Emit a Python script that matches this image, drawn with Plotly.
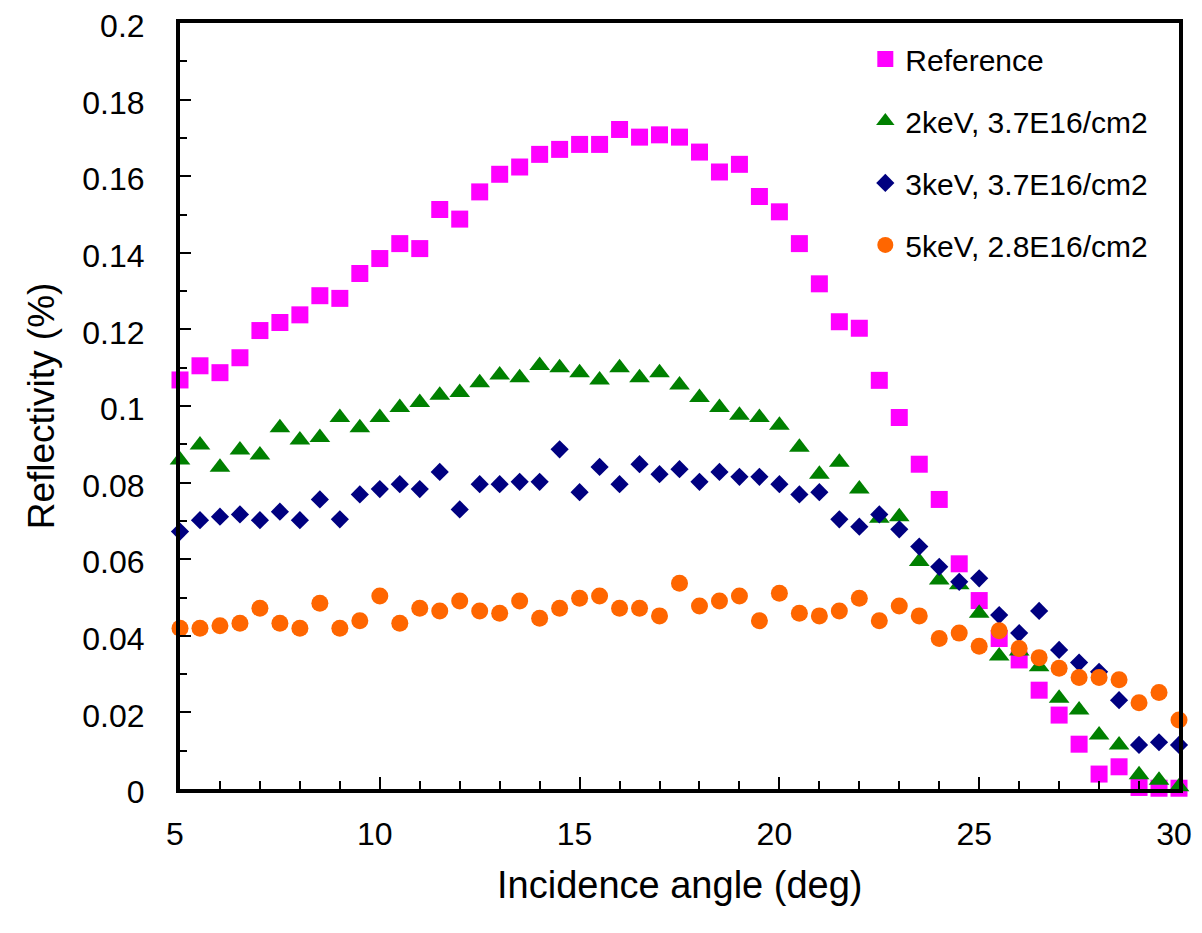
import plotly.graph_objects as go

angle = [5 + 0.5 * i for i in range(51)]

reference = [0.1068, 0.1105, 0.1087, 0.1126, 0.1197, 0.1218, 0.1238, 0.1288, 0.1281, 0.1346,
             0.1385, 0.1424, 0.1411, 0.1513, 0.1488, 0.1559, 0.1605, 0.1624, 0.1657, 0.1670,
             0.1683, 0.1683, 0.1722, 0.1702, 0.1708, 0.1702, 0.1663, 0.1611, 0.1631, 0.1547,
             0.1507, 0.1424, 0.1319, 0.1220, 0.1203, 0.1067, 0.0970, 0.0848, 0.0756, 0.0588,
             0.0492, 0.0393, 0.0337, 0.0258, 0.0193, 0.0117, 0.0039, 0.0058, 0.0004, 0.0002,
             0.0002]

kev2 = [0.0859, 0.0898, 0.0840, 0.0885, 0.0872, 0.0943, 0.0911, 0.0918, 0.0970, 0.0943,
        0.0970, 0.0996, 0.1009, 0.1028, 0.1035, 0.1061, 0.1081, 0.1074, 0.1106, 0.1100,
        0.1087, 0.1068, 0.1100, 0.1074, 0.1087, 0.1055, 0.1022, 0.0996, 0.0976, 0.0970,
        0.0950, 0.0892, 0.0822, 0.0853, 0.0783, 0.0707, 0.0711, 0.0594, 0.0546, 0.0533,
        0.0459, 0.0347, 0.0360, 0.0319, 0.0237, 0.0206, 0.0141, 0.0115, 0.0037, 0.0023,
        0.0006]

kev3 = [0.0672, 0.0702, 0.0711, 0.0717, 0.0702, 0.0724, 0.0702, 0.0756, 0.0704, 0.0769,
        0.0783, 0.0796, 0.0783, 0.0828, 0.0730, 0.0796, 0.0796, 0.0802, 0.0802, 0.0887,
        0.0775, 0.0841, 0.0796, 0.0848, 0.0822, 0.0835, 0.0802, 0.0828, 0.0815, 0.0815,
        0.0796, 0.0769, 0.0775, 0.0704, 0.0685, 0.0717, 0.0678, 0.0633, 0.0580, 0.0541,
        0.0550, 0.0454, 0.0407, 0.0465, 0.0363, 0.0330, 0.0306, 0.0232, 0.0115, 0.0122,
        0.0115]

kev5 = [0.0420, 0.0420, 0.0426, 0.0433, 0.0472, 0.0433, 0.0420, 0.0485, 0.0420, 0.0439,
        0.0504, 0.0433, 0.0472, 0.0465, 0.0491, 0.0465, 0.0459, 0.0491, 0.0446, 0.0472,
        0.0498, 0.0504, 0.0472, 0.0472, 0.0452, 0.0537, 0.0478, 0.0491, 0.0504, 0.0439,
        0.0511, 0.0459, 0.0452, 0.0465, 0.0498, 0.0439, 0.0478, 0.0452, 0.0393, 0.0407,
        0.0373, 0.0413, 0.0367, 0.0343, 0.0315, 0.0291, 0.0291, 0.0285, 0.0225, 0.0252,
        0.0180]

y_ticks = [0, 0.02, 0.04, 0.06, 0.08, 0.1, 0.12, 0.14, 0.16, 0.18, 0.2]
y_ticklabels = ["0", "0.02", "0.04", "0.06", "0.08", "0.1", "0.12", "0.14", "0.16", "0.18", "0.2"]
x_ticks = [5, 10, 15, 20, 25, 30]

series = [
    ("Reference", reference, "square", "#FF00FF", 17),
    ("2keV, 3.7E16/cm2", kev2, "triangle-up", "#008000", 18),
    ("3keV, 3.7E16/cm2", kev3, "diamond", "#000080", 14),
    ("5keV, 2.8E16/cm2", kev5, "circle", "#FF6600", 17),
]

FONT = "Liberation Sans, Arial, sans-serif"

fig = go.Figure()
for i, (name, vals, sym, col, sz) in enumerate(series):
    fig.add_trace(go.Scatter(
        x=angle, y=vals, mode="markers", name=name, legendgroup=f"g{i}",
        marker=dict(symbol=sym, color=col, size=sz, line=dict(width=0)),
        cliponaxis=False,
    ))

fig.update_layout(
    width=1194, height=917,
    margin=dict(l=172, r=23, t=15, b=136, autoexpand=False),
    paper_bgcolor="white", plot_bgcolor="white",
    font=dict(family=FONT, color="black", size=30),
    showlegend=True,
    legend=dict(
        x=0.686, y=0.987, xanchor="left", yanchor="top",
        bgcolor="rgba(0,0,0,0)", borderwidth=0,
        font=dict(family=FONT, size=30, color="black"),
        tracegroupgap=20, itemsizing="trace",
    ),
    xaxis=dict(
        range=[5, 30], tickmode="array", tickvals=x_ticks, automargin=False,
        ticks="inside", ticklen=12, tickwidth=1.5, tickcolor="black",
        minor=dict(dtick=1, tick0=5, ticks="inside", ticklen=8, tickwidth=1.5, tickcolor="black", showgrid=False),
        showline=True, linewidth=4, linecolor="black", mirror=True,
        showgrid=False, zeroline=False, layer="above traces",
        tickfont=dict(size=32), ticklabelstandoff=14, ticklabeloverflow="allow",
        ticklabelshift=-5,
    ),
    yaxis=dict(
        range=[0, 0.2], tickmode="array", tickvals=y_ticks, ticktext=y_ticklabels, automargin=False,
        ticks="inside", ticklen=11, tickwidth=1.5, tickcolor="black",
        minor=dict(dtick=0.01, tick0=0, ticks="inside", ticklen=7, tickwidth=1.5, tickcolor="black", showgrid=False),
        showline=True, linewidth=4, linecolor="black", mirror=True,
        showgrid=False, zeroline=False, layer="above traces",
        tickfont=dict(size=32), ticklabelstandoff=25, ticklabeloverflow="allow",
        ticklabelshift=3,
        title=dict(text="Reflectivity (%)", font=dict(size=37), standoff=17),
    ),
    annotations=[dict(
        text="Incidence angle (deg)", xref="paper", yref="paper",
        x=0.5, y=-0.1253, xanchor="center", yanchor="middle",
        showarrow=False, font=dict(family=FONT, size=38, color="black"),
    )],
)

fig.write_html("out.html")
